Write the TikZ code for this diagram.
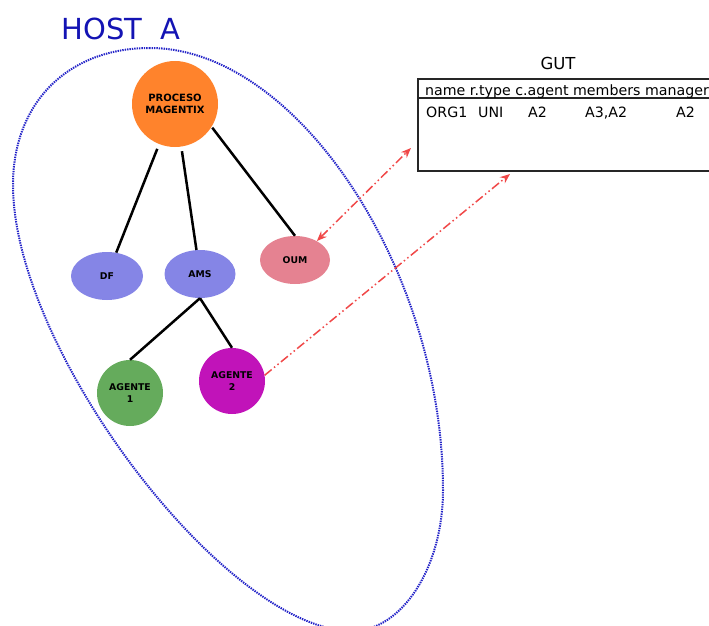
\documentclass[tikz,border=0pt]{standalone}
\usepackage{fontspec}
\setmainfont{DejaVu Sans}
\usetikzlibrary{arrows.meta,shapes.geometric}
\definecolor{cproc}{RGB}{255,131,44}
\definecolor{cblue}{RGB}{133,133,230}
\definecolor{coum}{RGB}{229,130,145}
\definecolor{cagone}{RGB}{101,171,92}
\definecolor{cagtwo}{RGB}{193,19,185}
\definecolor{chostline}{RGB}{36,36,200}
\definecolor{chost}{RGB}{20,20,180}
\definecolor{cmsg}{RGB}{240,72,72}
\tikzset{mytip/.tip={Stealth[length=10pt,width=8pt]}}
\begin{document}
\begin{tikzpicture}[x=1pt,y=-1pt,
  bub/.style={draw=none, inner sep=0pt, align=center, text=black, font=\fontsize{9.3}{12}\selectfont\bfseries},
  circ/.style={bub, circle},
  ell/.style={bub, ellipse},
  tree/.style={line width=2.5pt, black},
  msg/.style={draw=cmsg, line width=1.5pt, dash pattern=on 9pt off 3pt on 1.5pt off 3pt on 1.5pt off 3pt},
  tab/.style={font=\fontsize{14.2}{16}\selectfont, inner sep=0pt},
  hostline/.style={draw=chostline, line width=2pt, dash pattern=on 1.4pt off 1pt}
]
\useasboundingbox (0,0) rectangle (709,626);
\clip (0,0) rectangle (709,626);

% host boundary
\draw[hostline] (150,48) .. controls (67.8,48) and (13,102.8) .. (13,185)
  .. controls (13,350.4) and (226.6,631) .. (352,631)
  .. controls (402,631) and (443,567.6) .. (443,490)
  .. controls (443,269) and (296.5,48) .. (150,48) -- cycle;

\node[font=\fontsize{29}{34}\selectfont, text=chost, inner sep=0pt] (host) at (121,29) {HOST\ \ A};

% nodes
\node[circ, fill=cproc, minimum size=86pt, font=\fontsize{10}{12.7}\selectfont\bfseries] (proc) at (175,104) {PROCESO\\MAGENTIX};
\node[ell, fill=cblue, minimum width=72pt, minimum height=48pt] (df) at (107,276) {DF};
\node[ell, fill=cblue, minimum width=71pt, minimum height=48pt] (ams) at (200,274) {AMS};
\node[ell, fill=coum, minimum width=70pt, minimum height=48pt] (oum) at (295,260) {OUM};
\node[circ, fill=cagone, minimum size=66pt] (ag1) at (130,393) {AGENTE\\1};
\node[circ, fill=cagtwo, minimum size=66pt] (ag2) at (232,381) {AGENTE\\2};

% tree connectors
\draw[tree, shorten <=5pt] (proc) -- (df);
\draw[tree, shorten <=4.5pt] (proc) -- (ams);
\draw[tree, shorten <=1pt] (proc.-32) -- (oum.north);
\draw[tree] (ams.south) -- (ag1.north);
\draw[tree] (ams.south) -- (ag2.north);

% GUT table
\node[font=\fontsize{16.5}{19}\selectfont, inner sep=0pt] (gutlabel) at (558,63) {GUT};
\node[draw=black!85, line width=1.8pt, anchor=north west, minimum width=320pt, minimum height=92pt, inner sep=0pt] (gut) at (417,78) {};
\draw[draw=black!85, line width=1.5pt] (417,98) -- (740,98);
\node[tab, anchor=base west] (hdr) at (425,95) {name r.type c.agent members manager};
\node[tab, anchor=base west] (rname) at (426,117) {ORG1};
\node[tab, anchor=base west] (rtype) at (478,117) {UNI};
\node[tab, anchor=base west] (ragent) at (528,117) {A2};
\node[tab, anchor=base west] (rmem) at (585,117) {A3,A2};
\node[tab, anchor=base west] (rman) at (676,117) {A2};

% message arrows
\coordinate (t1) at (411,148);
\coordinate (t2) at (510,174);
\draw[msg, mytip-mytip] (oum.41) -- (t1);
\draw[msg, -mytip] (ag2.10) -- (t2);
\end{tikzpicture}
\end{document}
